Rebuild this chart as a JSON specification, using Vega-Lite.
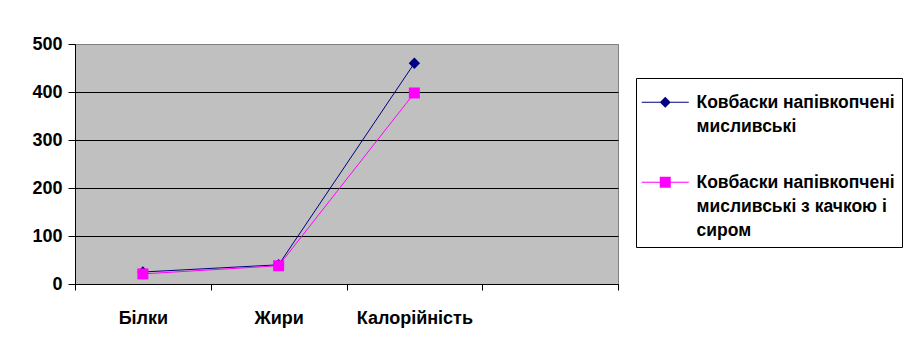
{
  "$schema": "https://vega.github.io/schema/vega-lite/v6.json",
  "width": 543,
  "height": 240,
  "autosize": "none",
  "padding": {"left": 75, "top": 44, "right": 300, "bottom": 77},
  "background": "white",
  "config": {
    "font": "Liberation Sans",
    "view": {"fill": "#C0C0C0", "stroke": "#808080", "strokeWidth": 1},
    "axis": {"labelFont": "Liberation Sans", "labelFontWeight": "bold", "labelFontSize": 18, "labelColor": "black", "domainColor": "black", "tickColor": "black", "title": null},
    "legend": {"labelFont": "Liberation Sans", "labelFontWeight": "bold", "labelFontSize": 17.5, "labelColor": "black"},
    "style": {"guide-label": {"lineHeight": 24}}
  },
  "data": {
    "values": [
      {"cat": "Білки", "value": 25, "series": "Ковбаски напівкопчені мисливські"},
      {"cat": "Жири", "value": 40, "series": "Ковбаски напівкопчені мисливські"},
      {"cat": "Калорійність", "value": 460, "series": "Ковбаски напівкопчені мисливські"},
      {"cat": "Білки", "value": 21, "series": "Ковбаски напівкопчені мисливські з качкою і сиром"},
      {"cat": "Жири", "value": 38, "series": "Ковбаски напівкопчені мисливські з качкою і сиром"},
      {"cat": "Калорійність", "value": 398, "series": "Ковбаски напівкопчені мисливські з качкою і сиром"}
    ]
  },
  "encoding": {
    "x": {
      "field": "cat", "type": "nominal", "sort": null,
      "scale": {"type": "band", "domain": ["Білки", "Жири", "Калорійність", " "], "paddingInner": 0, "paddingOuter": 0},
      "axis": {"labelAngle": 0, "tickBand": "extent", "tickSize": 6, "labelPadding": 19, "domainWidth": 1, "tickWidth": 1}
    },
    "y": {
      "field": "value", "type": "quantitative",
      "scale": {"domain": [0, 500], "nice": false},
      "axis": {"values": [0, 100, 200, 300, 400, 500], "grid": true, "gridColor": {"condition": {"test": "datum.value === 500", "value": "#808080"}, "value": "black"}, "gridOpacity": 1, "gridWidth": 1, "tickSize": 7, "labelPadding": 6}
    }
  },
  "layer": [
    {
      "transform": [{"filter": "datum.series === 'Ковбаски напівкопчені мисливські'"}],
      "mark": {"type": "line", "strokeWidth": 1, "color": "#000080"}
    },
    {
      "transform": [{"filter": "datum.series === 'Ковбаски напівкопчені мисливські'"}],
      "mark": {"type": "point", "shape": "diamond", "filled": true, "size": 130, "opacity": 1, "color": "#000080"}
    },
    {
      "transform": [{"filter": "datum.series === 'Ковбаски напівкопчені мисливські з качкою і сиром'"}],
      "mark": {"type": "line", "strokeWidth": 1, "color": "#FF00FF"}
    },
    {
      "transform": [{"filter": "datum.series === 'Ковбаски напівкопчені мисливські з качкою і сиром'"}],
      "mark": {"type": "point", "shape": "square", "filled": true, "size": 121, "opacity": 1, "color": "#FF00FF"}
    },
    {
      "transform": [{"filter": "datum.value < 0"}],
      "mark": {"type": "point", "filled": true, "opacity": 1},
      "encoding": {
        "color": {
          "field": "series", "type": "nominal",
          "scale": {"domain": ["Ковбаски напівкопчені мисливські", "Ковбаски напівкопчені мисливські з качкою і сиром"], "range": ["#000080", "#FF00FF"]},
          "legend": {"title": null, "orient": "none", "legendX": 561, "legendY": 34, "padding": 7, "strokeColor": "black", "fillColor": "white", "symbolSize": 100, "symbolOpacity": 1, "symbolStrokeWidth": 0, "labelOffset": 36, "labelLimit": 400, "rowPadding": 29, "labelBaseline": "top",
            "labelExpr": "datum.label === 'Ковбаски напівкопчені мисливські' ? ['Ковбаски напівкопчені', 'мисливські'] : ['Ковбаски напівкопчені', 'мисливські з качкою і', 'сиром']"}
        },
        "shape": {
          "field": "series", "type": "nominal",
          "scale": {"domain": ["Ковбаски напівкопчені мисливські", "Ковбаски напівкопчені мисливські з качкою і сиром"], "range": ["M-2,1.6H7.4V1.8H-2Z M2.7,0.6L3.8,1.7L2.7,2.8L1.6,1.7Z", "M-2,1.6H7.4V1.8H-2Z M1.6,0.6H3.8V2.8H1.6Z"]}
        }
      }
    }
  ]
}
